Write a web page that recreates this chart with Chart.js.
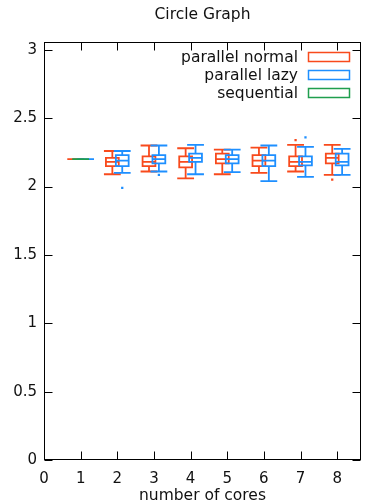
<!DOCTYPE html>
<html><head><meta charset="utf-8">
<script src="https://cdn.jsdelivr.net/npm/chart.js@4.4.0/dist/chart.umd.min.js"></script>
<style>html,body{margin:0;padding:0;background:#fff}#wrap{width:365px;height:503px}</style>
</head><body><div id="wrap"><canvas id="c" width="365" height="503"></canvas></div>
<script>
// ---- data ----
const cores = [1, 2, 3, 4, 5, 6, 7, 8];
const xTicks = [0, 1, 2, 3, 4, 5, 6, 7, 8];
const yTicks = [0, 0.5, 1, 1.5, 2, 2.5, 3];
const yTickLabels = ['0', '0.5', '1', '1.5', '2', '2.5', '3'];
const seriesNames = ['parallel normal', 'parallel lazy', 'sequential'];

const normalMin = [2.20, 2.09, 2.11, 2.06, 2.09, 2.10, 2.11, 2.085];
const normalQ1  = [2.20, 2.15, 2.15, 2.14, 2.17, 2.15, 2.15, 2.17];
const normalMed = [2.20, 2.18, 2.18, 2.18, 2.20, 2.19, 2.18, 2.21];
const normalQ3  = [2.20, 2.21, 2.22, 2.22, 2.24, 2.23, 2.22, 2.24];
const normalMax = [2.20, 2.26, 2.30, 2.28, 2.27, 2.285, 2.305, 2.305];
const normalOutX = [7, 8];
const normalOutY = [2.34, 2.05];

const lazyMin = [2.20, 2.10, 2.11, 2.09, 2.105, 2.04, 2.07, 2.085];
const lazyQ1  = [2.20, 2.15, 2.17, 2.18, 2.17, 2.15, 2.155, 2.155];
const lazyMed = [2.20, 2.19, 2.20, 2.21, 2.20, 2.19, 2.18, 2.18];
const lazyQ3  = [2.20, 2.23, 2.23, 2.24, 2.23, 2.23, 2.22, 2.24];
const lazyMax = [2.20, 2.26, 2.30, 2.305, 2.27, 2.30, 2.29, 2.275];
const lazyOutX = [2, 3, 7];
const lazyOutY = [1.99, 2.085, 2.36];

const seqCores = [1];
const seqMin = [2.20], seqQ1 = [2.20], seqMed = [2.20], seqQ3 = [2.20], seqMax = [2.20];

// ---- styles ----
const RED = '#f84a1c', BLUE = '#1e8fff', GREEN = '#1f9e4e';
const FONT = {family: 'DejaVu Sans', size: 15, weight: 'normal', lineHeight: 1.2};
const BIG = {family: 'DejaVu Sans', size: 15.5, weight: 'normal', lineHeight: 1.2};
const BOX_W = 0.35, CAP_W = 0.41;

function boxPoints(xs, off, mn, q1, md, q3, mx) {
  const p = [];
  const hb = BOX_W / 2, hc = CAP_W / 2;
  xs.forEach((c, i) => {
    const x = c + off;
    const gap = {x: x, y: null};
    p.push({x: x - hb, y: q1[i]}, {x: x + hb, y: q1[i]}, {x: x + hb, y: q3[i]}, {x: x - hb, y: q3[i]}, {x: x - hb, y: q1[i]}, gap);
    p.push({x: x - hb, y: md[i]}, {x: x + hb, y: md[i]}, gap);
    p.push({x: x, y: q3[i]}, {x: x, y: mx[i]}, gap);
    p.push({x: x - hc, y: mx[i]}, {x: x + hc, y: mx[i]}, gap);
    p.push({x: x, y: q1[i]}, {x: x, y: mn[i]}, gap);
    p.push({x: x - hc, y: mn[i]}, {x: x + hc, y: mn[i]}, gap);
  });
  return p;
}
function outPoints(xs, ys, off) { return xs.map((c, i) => ({x: c + off, y: ys[i]})); }

const lineDs = (label, color, data, order) => ({label, data, borderColor: color, backgroundColor: color,
  showLine: true, spanGaps: false, pointRadius: 0, borderWidth: 1.8, order, fill: false, tension: 0,
  borderJoinStyle: 'miter', borderCapStyle: 'square'});
const ptDs = (label, color, data, order) => ({label, data, showLine: false, pointStyle: 'rect',
  pointRadius: 1.6, borderWidth: 0, backgroundColor: color, borderColor: color, order});

const OFF = 0.135;
const datasets = [
  lineDs(seriesNames[0], RED, boxPoints(cores, -OFF, normalMin, normalQ1, normalMed, normalQ3, normalMax), 5),
  ptDs(seriesNames[0] + ' outliers', RED, outPoints(normalOutX, normalOutY, -OFF), 4),
  lineDs(seriesNames[1], BLUE, boxPoints(cores, OFF, lazyMin, lazyQ1, lazyMed, lazyQ3, lazyMax), 3),
  ptDs(seriesNames[1] + ' outliers', BLUE, outPoints(lazyOutX, lazyOutY, OFF), 2),
  lineDs(seriesNames[2], GREEN, boxPoints(seqCores, 0, seqMin, seqQ1, seqMed, seqQ3, seqMax), 1)
];

const frame = {
  id: 'frame',
  beforeDatasetsDraw(ch) {
    const {ctx, chartArea: a, scales: {x, y}} = ch;
    ctx.save();
    ctx.strokeStyle = '#000';
    ctx.lineWidth = 1;
    const L = Math.round(a.left) + 0.5, R = Math.round(a.right) - 0.5;
    const T = Math.round(a.top) + 0.5, B = Math.round(a.bottom) - 0.5;
    ctx.strokeRect(L, T, R - L, B - T);
    const TL = 8;
    ctx.beginPath();
    yTicks.forEach(v => {
      const py = Math.round(y.getPixelForValue(v)) + 0.5;
      ctx.moveTo(L, py); ctx.lineTo(L + TL, py);
      ctx.moveTo(R, py); ctx.lineTo(R - TL, py);
    });
    xTicks.forEach(v => {
      const px = Math.round(x.getPixelForValue(v)) + 0.5;
      ctx.moveTo(px, B); ctx.lineTo(px, B - TL);
      ctx.moveTo(px, T); ctx.lineTo(px, T + TL);
    });
    ctx.stroke();
    ctx.restore();
  }
};

const legendBox = {
  id: 'legendBox',
  afterDraw(ch) {
    const {ctx} = ch;
    const colors = [RED, BLUE, GREEN];
    ctx.save();
    ctx.font = '15.5px "DejaVu Sans"';
    ctx.textAlign = 'right';
    ctx.textBaseline = 'middle';
    seriesNames.forEach((n, i) => {
      const cy = 57 + 18 * i;
      ctx.fillStyle = '#111';
      ctx.fillText(n, 298, cy + 1);
      ctx.strokeStyle = colors[i];
      ctx.lineWidth = 1.5;
      ctx.strokeRect(308.5, cy - 4.5, 41, 9);
    });
    ctx.restore();
  }
};

new Chart(document.getElementById('c'), {
  type: 'scatter',
  data: {datasets},
  options: {
    responsive: false, animation: false, devicePixelRatio: 1,
    layout: {padding: {left: 0, right: 1, top: 0, bottom: 0}},
    plugins: {
      legend: {display: false}, tooltip: {enabled: false},
      title: {display: true, fullSize: false, text: 'Circle Graph', font: BIG, color: '#111', padding: {top: 5.5, bottom: 17.5}}
    },
    scales: {
      x: {
        type: 'linear', min: 0, max: 8.65,
        afterBuildTicks: s => { s.ticks = xTicks.map(v => ({value: v})); },
        grid: {display: false, drawTicks: false}, border: {display: false},
        ticks: {font: FONT, color: '#111', padding: 10, maxRotation: 0, callback: v => String(v)},
        title: {display: true, text: 'number of cores', font: BIG, color: '#111', padding: {top: 0, bottom: -2}},
        afterFit: s => { s.height = 43; }
      },
      y: {
        type: 'linear', min: 0, max: 3.06,
        afterBuildTicks: s => { s.ticks = yTicks.map(v => ({value: v})); },
        grid: {display: false, drawTicks: false}, border: {display: false},
        ticks: {font: FONT, color: '#111', padding: 7, callback: (v, i) => yTickLabels[i]},
        afterFit: s => { s.width = 44; }
      }
    }
  },
  plugins: [frame, legendBox]
});
</script>
</body></html>
